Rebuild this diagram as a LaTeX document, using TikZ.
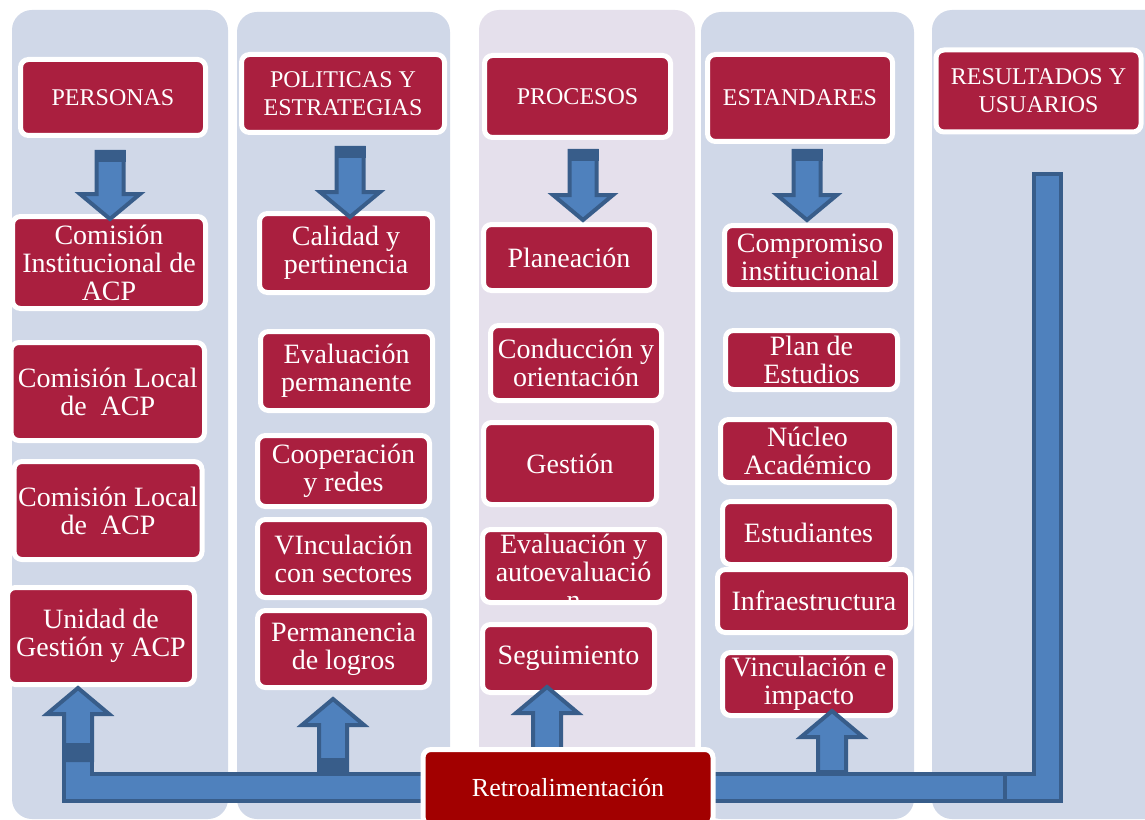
\documentclass[tikz,border=0pt]{standalone}
\usepackage{fontspec}
\setmainfont{Liberation Serif}
\definecolor{colbg}{RGB}{208,216,232}
\definecolor{colpro}{RGB}{229,224,236}
\definecolor{crim}{RGB}{170,31,63}
\definecolor{retrored}{RGB}{162,0,0}
\definecolor{blfill}{RGB}{79,129,189}
\definecolor{bldark}{RGB}{56,93,138}
\tikzset{
  colbox/.style={fill=colbg, rounded corners=15pt},
  wbox/.style={fill=crim, draw=white, line width=3.75pt, rounded corners=6pt, inner sep=0pt, text=white, align=center},
  headbox/.style={wbox, font=\fontsize{18}{21}\selectfont},
  itembox/.style={wbox, font=\fontsize{21}{21}\selectfont},
  blockarrow/.style={fill=blfill, draw=bldark, line width=3pt, line join=miter},
  darkband/.style={fill=bldark},
}
% box: style, name, x1, y1, x2, y2, text (pixel coordinates of the border line)
\newcommand\bx[7]{%
  \node[#1, minimum width={(#5-#3)*0.75pt}, minimum height={(#6-#4)*0.75pt}] (#2) at ({(#3+#5)/2},{(#4+#6)/2}) {#7};}
% down block arrow: centre x, top y, tip y
\newcommand\dnblock[3]{%
  \draw[blockarrow] (#1-13.5,#2+2) -- (#1+13.5,#2+2) -- (#1+13.5,#3-27) -- (#1+30,#3-27) -- (#1,#3-2) -- (#1-30,#3-27) -- (#1-13.5,#3-27) -- cycle;
  \fill[darkband] (#1-15.5,#2) rectangle (#1+15.5,#2+12);}
% up block arrow: centre x, tip y, bottom y
\newcommand\upblock[3]{%
  \draw[blockarrow] (#1-14,#3) -- (#1-14,#2+28) -- (#1-31,#2+28) -- (#1,#2+2) -- (#1+31,#2+28) -- (#1+14,#2+28) -- (#1+14,#3) -- cycle;}
\begin{document}
\begin{tikzpicture}[x=0.75pt, y=-0.75pt]
\clip (0,0) rectangle (1145,820);
\fill[white] (0,0) rectangle (1145,820);
% columns
\fill[colbox] (12,10) rectangle (228,819);
\fill[colbox] (237,12) rectangle (450,819);
\fill[colbox, fill=colpro] (479,10) rectangle (695,819);
\fill[colbox] (701,12) rectangle (914,819);
\fill[colbox] (932,10) rectangle (1170,819);
% headers
\bx{headbox}{personas}{20.5}{59.5}{205.5}{135.5}{PERSONAS}
\bx{headbox}{politicas}{241.5}{54.5}{444.5}{132.5}{POLITICAS Y\\ESTRATEGIAS}
\bx{headbox}{procesos}{484.5}{55.5}{670.5}{137.5}{PROCESOS}
\bx{headbox}{estandares}{707.5}{54.5}{892.5}{141.5}{ESTANDARES}
\bx{headbox}{resultados}{936}{50}{1141}{132}{RESULTADOS Y\\USUARIOS}
% column 1
\bx{itembox}{cinst}{12.5}{216.5}{205.5}{308.5}{Comisión\\Institucional de\\ACP}
\bx{itembox}{clocalA}{11}{342.5}{204.5}{440.5}{Comisión Local\\de\ \ ACP}
\bx{itembox}{clocalB}{14}{461.5}{202}{559.5}{Comisión Local\\de\ \ ACP}
\bx{itembox}{unidad}{7.5}{587.5}{194.5}{684.5}{Unidad de\\Gestión y ACP}
% column 2
\bx{itembox}{calidad}{259.5}{213.5}{432.5}{292.5}{Calidad y\\pertinencia}
\bx{itembox}{evalperm}{260.5}{331.5}{432.5}{410.5}{Evaluación\\permanente}
\bx{itembox}{coop}{257.5}{435.5}{429.5}{506.5}{Cooperación\\y redes}
\bx{itembox}{vincsec}{257.5}{519.5}{429.5}{597.5}{VInculación\\con sectores}
\bx{itembox}{perman}{257.5}{610.5}{429.5}{687.5}{Permanencia\\de logros}
% column 3
\bx{itembox}{planea}{483.5}{224.5}{654.5}{290.5}{Planeación}
\bx{itembox}{conduc}{490.5}{325.5}{661.5}{400.5}{Conducción y\\orientación}
\bx{itembox}{gestion}{483.5}{422.5}{656.5}{504.5}{Gestión}
\bx{itembox, path picture={\node[text=white, align=center, inner sep=0pt, font=\fontsize{21}{21}\selectfont] at ([yshift=-4pt]path picture bounding box.center) {Evaluación y\\autoevaluació\\n};}}{evalauto}{482.5}{529.5}{664.5}{602.5}{}
\bx{itembox}{seguim}{482.5}{624.5}{654.5}{692.5}{Seguimiento}
% column 4
\bx{itembox}{comprom}{724.5}{225.5}{895.5}{289.5}{Compromiso\\institucional}
\bx{itembox}{plan}{725.5}{330.5}{897.5}{389.5}{Plan de\\Estudios}
\bx{itembox}{nucleo}{720.5}{419.5}{894.5}{482.5}{Núcleo\\Académico}
\bx{itembox}{estud}{722.5}{501.5}{894.5}{564.5}{Estudiantes}
\bx{itembox}{infra}{717.5}{569.5}{910.5}{632.5}{Infraestructura}
\bx{itembox}{vincimp}{722.5}{652.5}{895.5}{715.5}{Vinculación e\\impacto}
% down arrows
\dnblock{110}{150}{221}
\dnblock{350}{146}{219}
\dnblock{583}{149}{222}
\dnblock{807}{149}{222}
% feedback bar
\draw[blockarrow] (64,752) -- (92,752) -- (92,774) -- (1005,774) -- (1005,801) -- (64,801) -- cycle;
\draw[blockarrow] (1034,174) -- (1061,174) -- (1061,801) -- (1005,801) -- (1005,774) -- (1034,774) -- cycle;
% up arrows
\upblock{78}{686}{760}
\fill[darkband] (62,743) rectangle (94,760);
\upblock{333}{697}{772}
\fill[darkband] (318,758) rectangle (348,772);
\upblock{547}{685}{760}
\upblock{832}{709}{772}
% feedback box
\bx{wbox, fill=retrored, font=\fontsize{19.5}{20}\selectfont}{retro}{423}{749.5}{713}{825}{Retroalimentación}
\end{tikzpicture}
\end{document}
